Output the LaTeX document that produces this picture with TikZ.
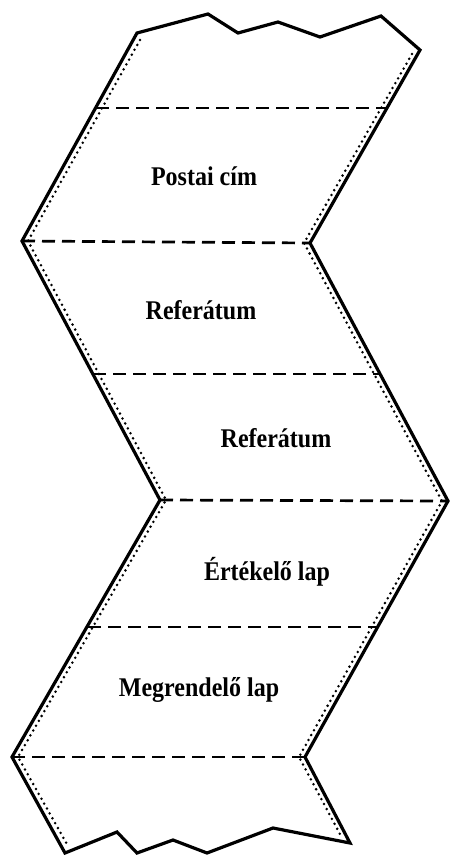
\documentclass[tikz,border=0pt]{standalone}
\usepackage{fontspec}
\setmainfont{Liberation Serif}
\begin{document}
\begin{tikzpicture}[x=1pt,y=-1pt,
  edge/.style={line width=3.2pt,line join=miter},
  fold/.style={line width=2.7pt,dash pattern=on 13pt off 7pt},
  perf/.style={line width=2.8pt,line cap=round,dash pattern=on 0pt off 5.6pt},
  lbl/.style={font=\fontsize{25}{29}\selectfont\bfseries,inner sep=0pt,xscale=0.96,yscale=1.08}]
\useasboundingbox (0,0) rectangle (450,855);
% outline vertices
\coordinate (L0) at (137,33);
\coordinate (L1) at (22,241);
\coordinate (L2) at (160,500);
\coordinate (L3) at (12,757);
\coordinate (L4) at (65,853);
\coordinate (R0) at (420,50);
\coordinate (R1) at (310,243);
\coordinate (R2) at (448,501);
\coordinate (R3) at (305,757);
\coordinate (R4) at (350,843);
% outline
\draw[edge] (L0) -- (208,14) -- (238,33) -- (278,22) -- (320,37) -- (381,16) -- (R0)
  -- (R1) -- (R2) -- (R3) -- (R4)
  -- (273,828) -- (207,853) -- (173,840) -- (137,853) -- (117,832) -- (L4)
  -- (L3) -- (L2) -- (L1) -- cycle;
% perforations
\draw[perf] (140,40) -- (28,241) -- (166,500) -- (18,757) -- (68,846);
\draw[perf] (412,54) -- (304,243) -- (442,501) -- (299,757) -- (341,836);
% fold lines
\coordinate (F1a) at (96,108);  \coordinate (F1b) at (387,108);
\coordinate (F3a) at (93,374);  \coordinate (F3b) at (380,374);
\coordinate (F5a) at (88,627);  \coordinate (F5b) at (378,627);
\draw[fold] (F1a) -- (F1b);
\draw[fold] (L1) -- (R1);
\draw[fold] (F3a) -- (F3b);
\draw[fold] (L2) -- (R2);
\draw[fold] (F5a) -- (F5b);
\draw[fold] (L3) -- (R3);
% labels
\node[lbl] (t1) at (204,176) {Postai cím};
\node[lbl] (t2) at (201,310) {Referátum};
\node[lbl] (t3) at (276,438) {Referátum};
\node[lbl] (t4) at (267,572) {Értékelő lap};
\node[lbl] (t5) at (199,690) {Megrendelő lap};
\end{tikzpicture}
\end{document}
